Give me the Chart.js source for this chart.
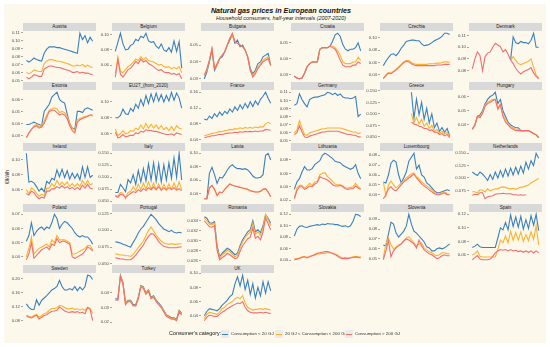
<!DOCTYPE html>
<html>
<head>
<meta charset="utf-8">
<script src="https://cdn.jsdelivr.net/npm/chart.js@4/dist/chart.umd.min.js"></script>
<style>
  body { margin: 0; background: #ffffff; font-family: "Liberation Sans", Arial, sans-serif; }
  #page { position: relative; width: 550px; height: 347px; overflow: hidden; }
  #bg { position: absolute; left: 4px; top: 4px; width: 542px; height: 339px; background: #fcf8ec; }
  .title { position: absolute; left: 0; width: 562px; text-align: center; color: #111; }
  .strip { position: absolute; height: 8px; background: #d9d9d9; color: #1a1a1a;
           font-size: 4.6px; line-height: 8px; text-align: center; white-space: nowrap; }
  canvas { position: absolute; }
  #ylab { position: absolute; left: -8px; top: 174px; width: 30px; text-align: center;
          font-size: 5px; color: #222; transform: rotate(-90deg); }
  .leg { position: absolute; top: 331px; font-size: 4.4px; color: #333; white-space: nowrap; line-height: 6px; }
  .key { position: absolute; top: 330px; width: 8px; height: 8px; background: #ebebeb; }
  .key i { position: absolute; left: 1px; right: 1px; top: 3.5px; height: 1px; }
</style>
</head>
<body>
<div id="page">
  <div id="bg"></div>
  <div class="title" style="top:6px;font-size:7.2px;font-weight:bold;font-style:italic;">Natural gas prices in European countries</div>
  <div class="title" style="top:15px;font-size:5.4px;font-style:italic;color:#222;">Household consumers, half-year intervals (2007-2020)</div>
  <div id="ylab">€/kWh</div>
</div>
<script>
// half-year periods, 2007S1 .. 2020S1
const periods = ['2007S1','2007S2','2008S1','2008S2','2009S1','2009S2','2010S1','2010S2','2011S1',
  '2011S2','2012S1','2012S2','2013S1','2013S2','2014S1','2014S2','2015S1','2015S2','2016S1',
  '2016S2','2017S1','2017S2','2018S1','2018S2','2019S1','2019S2','2020S1'];

const countries = ['Austria','Belgium','Bulgaria','Croatia','Czechia','Denmark',
  'Estonia','EU27_(from_2020)','France','Germany','Greece','Hungary',
  'Ireland','Italy','Latvia','Lithuania','Luxembourg','Netherlands',
  'Poland','Portugal','Romania','Slovakia','Slovenia','Spain',
  'Sweden','Turkey','UK'];

const categories = ['Consumption < 20 GJ', '20 GJ < Consumption < 200 GJ', 'Consumption > 200 GJ'];
const colors = ['#3a80bf', '#fbb32f', '#f46d6f'];

const _ = null;

// Consumption < 20 GJ
const smallUse = [
  [0.075,0.073,0.075,0.078,0.076,0.075,0.074,0.084,0.089,0.092,0.092,0.092,0.091,0.091,0.090,0.089,0.088,0.087,0.086,0.085,0.084,0.109,0.101,0.106,0.097,0.104,0.099],
  [0.078,0.090,0.102,0.088,0.080,0.081,0.086,0.088,0.094,0.092,0.098,0.096,0.102,0.092,0.090,0.091,0.085,0.082,0.088,0.080,0.078,0.083,0.077,0.092,0.078,0.091,0.056],
  [0.030,0.034,0.040,0.047,0.035,0.038,0.042,0.043,0.046,0.050,0.053,0.056,0.051,0.053,0.049,0.050,0.047,0.043,0.036,0.033,0.035,0.039,0.040,0.043,0.044,0.045,0.038],
  [0.029,0.028,0.0275,0.028,0.031,0.035,0.037,0.038,0.038,0.038,0.046,0.047,0.047,0.047,0.048,0.051,0.055,0.056,0.054,0.049,0.046,0.045,0.046,0.046,0.047,0.050,0.045],
  [0.055,0.062,0.068,0.073,0.074,0.071,0.076,0.083,0.088,0.094,0.095,0.096,0.096,0.095,0.095,0.090,0.087,0.088,0.089,0.092,0.095,0.097,0.099,0.102,0.107,0.107,0.105],
  [_,_,_,_,_,_,_,_,_,_,_,_,_,_,_,0.089,0.109,0.104,0.103,0.105,0.104,0.104,0.103,0.106,0.112,0.100,0.100],
  [0.039,0.039,0.040,0.041,0.040,0.039,0.038,0.050,0.053,0.056,0.062,0.064,0.066,0.060,0.058,0.057,0.048,0.040,0.036,0.035,0.050,0.050,0.049,0.052,0.053,0.052,0.051],
  [0.080,0.080,0.083,0.091,0.085,0.084,0.092,0.088,0.097,0.092,0.103,0.095,0.108,0.098,0.110,0.100,0.111,0.101,0.109,0.100,0.108,0.101,0.112,0.102,0.111,0.105,0.092],
  [0.092,0.090,0.100,0.094,0.106,0.098,0.110,0.102,0.112,0.106,0.118,0.110,0.123,0.114,0.128,0.118,0.132,0.121,0.136,0.124,0.138,0.128,0.142,0.150,0.160,0.145,0.132],
  [0.094,0.096,0.108,0.101,0.096,0.092,0.101,0.103,0.104,0.104,0.105,0.106,0.107,0.110,0.109,0.107,0.109,0.106,0.108,0.104,0.103,0.103,0.102,0.103,0.105,0.080,0.083],
  [_,_,_,_,_,_,_,_,_,_,_,0.147,0.090,0.132,0.098,0.125,0.088,0.112,0.080,0.100,0.070,0.080,0.062,0.070,0.060,0.068,0.052],
  [0.037,0.040,0.046,0.047,0.050,0.055,0.058,0.060,0.061,0.063,0.055,0.058,0.050,0.046,0.042,0.040,0.039,0.038,0.038,0.036,0.036,0.036,0.036,0.035,0.034,0.033,0.031],
  [0.108,0.070,0.071,0.069,0.064,0.058,0.062,0.057,0.071,0.068,0.075,0.073,0.086,0.077,0.087,0.076,0.085,0.074,0.082,0.075,0.081,0.073,0.090,0.076,0.090,0.076,0.079],
  [0.068,0.068,0.085,0.078,0.070,0.095,0.088,0.105,0.085,0.114,0.090,0.118,0.092,0.128,0.094,0.130,0.092,0.128,0.090,0.126,0.094,0.130,0.098,0.140,0.100,0.150,0.094],
  [0.032,0.032,0.070,0.079,0.068,0.055,0.064,0.063,0.068,0.075,0.080,0.083,0.079,0.077,0.077,0.076,0.077,0.075,0.071,0.066,0.063,0.063,0.064,0.068,0.097,0.100,0.090],
  [0.036,0.047,0.052,0.062,0.070,0.065,0.065,0.067,0.073,0.076,0.079,0.087,0.090,0.088,0.085,0.082,0.078,0.077,0.076,0.072,0.070,0.068,0.066,0.068,0.073,0.060,0.052],
  [0.053,0.052,0.060,0.072,0.075,0.073,0.060,0.052,0.057,0.063,0.074,0.078,0.082,0.066,0.070,0.060,0.058,0.052,0.050,0.047,0.044,0.042,0.042,0.043,0.044,0.045,0.044],
  [0.112,0.108,0.105,0.112,0.108,0.102,0.095,0.107,0.097,0.112,0.100,0.115,0.102,0.118,0.104,0.120,0.106,0.122,0.108,0.124,0.110,0.132,0.118,0.135,0.125,0.150,0.140],
  [0.051,0.055,0.064,0.055,0.058,0.060,0.061,0.059,0.061,0.060,0.064,0.070,0.067,0.060,0.063,0.065,0.064,0.062,0.060,0.057,0.055,0.054,0.055,0.054,0.054,0.052,0.049],
  [0.083,0.082,0.081,0.079,0.078,0.076,0.075,0.082,0.088,0.096,0.102,0.106,0.112,0.118,0.124,0.120,0.116,0.110,0.106,0.102,0.100,0.098,0.100,0.097,0.096,0.097,0.096],
  [0.0348,0.0345,0.0336,0.0335,0.0338,0.0290,0.0268,0.0275,0.0280,0.0285,0.0282,0.0277,0.0272,0.0275,0.0290,0.0302,0.0310,0.0318,0.0322,0.0340,0.0318,0.0322,0.0316,0.0330,0.0352,0.0345,0.0335],
  [0.082,0.094,0.099,0.100,0.098,0.097,0.099,0.100,0.101,0.102,0.101,0.103,0.102,0.104,0.103,0.103,0.102,0.102,0.100,0.099,0.100,0.098,0.100,0.108,0.120,0.119,0.116],
  [0.064,0.063,0.075,0.087,0.085,0.076,0.072,0.075,0.078,0.083,0.095,0.085,0.078,0.076,0.073,0.070,0.067,0.062,0.061,0.058,0.058,0.060,0.061,0.060,0.061,0.063,0.065],
  [0.071,0.073,0.076,0.072,0.071,0.071,0.071,0.071,0.071,0.071,0.085,0.100,0.097,0.108,0.097,0.119,0.102,0.116,0.101,0.117,0.098,0.112,0.099,0.118,0.104,0.120,0.096],
  [0.128,0.118,0.112,0.112,0.140,0.124,0.138,0.145,0.152,0.160,0.168,0.172,0.178,0.195,0.178,0.168,0.168,0.172,0.168,0.178,0.166,0.176,0.168,0.178,0.210,0.208,0.198],
  [0.036,0.036,0.052,0.047,0.033,0.035,0.035,0.032,0.032,0.037,0.045,0.044,0.040,0.042,0.037,0.038,0.035,0.033,0.031,0.028,0.025,0.024,0.023,0.023,0.022,0.028,0.026],
  [0.040,0.046,0.050,0.049,0.048,0.047,0.050,0.055,0.058,0.062,0.067,0.070,0.085,0.095,0.082,0.097,0.077,0.090,0.070,0.085,0.065,0.080,0.068,0.088,0.072,0.088,0.075]
];

// 20 GJ < Consumption < 200 GJ
const mediumUse = [
  [0.060,0.058,0.060,0.063,0.062,0.061,0.061,0.071,0.074,0.076,0.076,0.075,0.074,0.074,0.073,0.072,0.071,0.070,0.068,0.068,0.069,0.068,0.070,0.067,0.069,0.067,0.066],
  [0.049,0.070,0.052,0.050,0.054,0.058,0.060,0.064,0.068,0.066,0.071,0.067,0.070,0.066,0.065,0.064,0.062,0.060,0.061,0.058,0.057,0.058,0.055,0.057,0.055,0.058,0.050],
  [0.032,0.035,0.041,0.048,0.036,0.038,0.042,0.044,0.046,0.050,0.054,0.056,0.052,0.051,0.050,0.049,0.047,0.043,0.035,0.032,0.034,0.037,0.039,0.041,0.042,0.043,0.038],
  [0.029,0.028,0.0275,0.028,0.031,0.035,0.037,0.038,0.038,0.038,0.046,0.047,0.047,0.047,0.048,0.048,0.047,0.045,0.042,0.038,0.037,0.037,0.037,0.038,0.038,0.041,0.039],
  [0.035,0.040,0.044,0.043,0.046,0.049,0.053,0.057,0.061,0.063,0.063,0.060,0.058,0.057,0.057,0.057,0.057,0.057,0.058,0.058,0.058,0.059,0.059,0.060,0.061,0.061,0.060],
  [_,_,_,_,_,_,_,_,_,_,_,_,_,_,_,0.089,0.092,0.089,0.086,0.085,0.086,0.087,0.088,0.090,0.083,0.076,0.074],
  [0.028,0.032,0.035,0.038,0.039,0.037,0.038,0.042,0.047,0.051,0.052,0.053,0.052,0.049,0.050,0.049,0.046,0.040,0.036,0.034,0.043,0.044,0.045,0.046,0.046,0.047,0.046],
  [0.066,0.058,0.060,0.064,0.060,0.061,0.064,0.063,0.067,0.065,0.071,0.066,0.073,0.067,0.072,0.067,0.071,0.066,0.070,0.065,0.068,0.064,0.069,0.064,0.070,0.067,0.066],
  [0.050,0.052,0.054,0.056,0.057,0.059,0.061,0.060,0.063,0.064,0.066,0.065,0.068,0.067,0.070,0.068,0.071,0.069,0.071,0.069,0.072,0.070,0.073,0.072,0.080,0.084,0.080],
  [0.060,0.063,0.075,0.066,0.058,0.057,0.060,0.061,0.062,0.063,0.064,0.065,0.065,0.066,0.066,0.066,0.066,0.066,0.066,0.065,0.064,0.063,0.062,0.061,0.061,0.059,0.060],
  [_,_,_,_,_,_,_,_,_,_,_,0.100,0.080,0.092,0.078,0.088,0.073,0.080,0.068,0.075,0.062,0.066,0.058,0.062,0.056,0.060,0.050],
  [0.037,0.040,0.046,0.046,0.049,0.054,0.056,0.057,0.058,0.058,0.052,0.055,0.047,0.044,0.041,0.039,0.038,0.037,0.037,0.036,0.036,0.036,0.036,0.035,0.034,0.033,0.031],
  [0.060,0.055,0.062,0.060,0.055,0.051,0.054,0.052,0.062,0.062,0.068,0.064,0.072,0.066,0.070,0.066,0.070,0.064,0.068,0.064,0.068,0.064,0.072,0.066,0.072,0.066,0.068],
  [0.062,0.060,0.068,0.066,0.055,0.068,0.070,0.080,0.072,0.085,0.074,0.088,0.075,0.090,0.075,0.088,0.074,0.086,0.073,0.085,0.074,0.086,0.075,0.088,0.075,0.090,0.074],
  [0.032,0.032,0.048,0.052,0.046,0.037,0.042,0.041,0.046,0.050,0.054,0.052,0.051,0.050,0.049,0.048,0.047,0.046,0.044,0.043,0.042,0.042,0.043,0.046,0.047,0.042,0.035],
  [0.023,0.038,0.042,0.042,0.038,0.041,0.045,0.042,0.047,0.048,0.058,0.060,0.061,0.055,0.052,0.048,0.044,0.043,0.043,0.041,0.038,0.038,0.039,0.040,0.045,0.040,0.037],
  [0.053,0.039,0.050,0.054,0.050,0.047,0.049,0.052,0.054,0.057,0.059,0.061,0.062,0.058,0.056,0.053,0.051,0.049,0.047,0.045,0.042,0.041,0.041,0.042,0.043,0.041,0.040],
  [0.072,0.072,0.070,0.076,0.075,0.072,0.078,0.074,0.076,0.078,0.078,0.081,0.082,0.081,0.079,0.078,0.079,0.077,0.079,0.081,0.082,0.084,0.086,0.090,0.093,0.096,0.099],
  [0.040,0.046,0.054,0.042,0.044,0.046,0.047,0.048,0.049,0.047,0.052,0.050,0.055,0.052,0.052,0.052,0.051,0.050,0.042,0.042,0.043,0.044,0.045,0.046,0.048,0.048,0.045],
  [0.065,0.064,0.063,0.063,0.062,0.062,0.061,0.064,0.069,0.074,0.079,0.084,0.092,0.100,0.105,0.099,0.093,0.088,0.084,0.081,0.080,0.079,0.080,0.079,0.079,0.080,0.080],
  [0.0345,0.0340,0.0333,0.0332,0.0335,0.0286,0.0265,0.0271,0.0276,0.0281,0.0278,0.0273,0.0268,0.0271,0.0286,0.0298,0.0306,0.0313,0.0317,0.0335,0.0313,0.0318,0.0311,0.0326,0.0353,0.0342,0.0330],
  [0.042,0.043,0.044,0.046,0.047,0.045,0.047,0.048,0.049,0.051,0.051,0.052,0.052,0.053,0.053,0.052,0.051,0.049,0.046,0.044,0.045,0.044,0.045,0.046,0.047,0.046,0.046],
  [0.051,0.065,0.071,0.064,0.060,0.062,0.064,0.065,0.068,0.071,0.072,0.069,0.066,0.063,0.065,0.066,0.061,0.059,0.057,0.056,0.054,0.053,0.054,0.056,0.056,0.055,0.055],
  [0.060,0.062,0.066,0.058,0.057,0.057,0.057,0.057,0.057,0.057,0.068,0.082,0.078,0.088,0.078,0.095,0.082,0.093,0.082,0.094,0.080,0.090,0.081,0.094,0.083,0.103,0.075],
  [0.095,0.093,0.090,0.095,0.098,0.090,0.095,0.100,0.103,0.110,0.115,0.115,0.117,0.124,0.122,0.118,0.114,0.114,0.116,0.112,0.114,0.110,0.114,0.110,0.118,0.116,0.100],
  [0.0355,0.0355,0.0515,0.0465,0.0325,0.0345,0.0345,0.0315,0.0315,0.0365,0.0445,0.0435,0.0395,0.0415,0.0365,0.0375,0.0345,0.0325,0.0305,0.0275,0.0245,0.0235,0.0225,0.0225,0.0215,0.0275,0.0255],
  [0.036,0.042,0.045,0.044,0.043,0.042,0.045,0.050,0.052,0.056,0.058,0.060,0.064,0.066,0.064,0.068,0.058,0.052,0.050,0.048,0.049,0.049,0.050,0.049,0.050,0.049,0.048]
];

// Consumption > 200 GJ
const largeUse = [
  [0.054,0.052,0.054,0.057,0.056,0.055,0.055,0.064,0.066,0.068,0.068,0.067,0.066,0.066,0.065,0.064,0.063,0.062,0.060,0.060,0.061,0.059,0.060,0.059,0.059,0.058,0.057],
  [0.044,0.068,0.048,0.044,0.049,0.054,0.056,0.060,0.065,0.062,0.068,0.064,0.066,0.062,0.060,0.058,0.055,0.053,0.054,0.051,0.050,0.050,0.048,0.049,0.047,0.049,0.042],
  [0.032,0.036,0.041,0.048,0.036,0.039,0.042,0.044,0.046,0.050,0.054,0.057,0.052,0.051,0.050,0.049,0.047,0.043,0.035,0.031,0.033,0.036,0.038,0.040,0.041,0.042,0.038],
  [0.029,0.028,0.0275,0.028,0.031,0.035,0.037,0.038,0.038,0.038,0.046,0.047,0.047,0.047,0.048,0.047,0.046,0.043,0.039,0.036,0.035,0.035,0.035,0.036,0.036,0.038,0.037],
  [0.034,0.039,0.043,0.042,0.045,0.048,0.052,0.056,0.060,0.062,0.061,0.058,0.056,0.055,0.055,0.055,0.055,0.055,0.055,0.055,0.055,0.056,0.056,0.056,0.057,0.057,0.057],
  [0.0815,0.090,0.096,0.093,0.080,0.092,0.095,0.096,0.100,0.1035,0.102,0.1005,0.096,0.098,0.094,0.089,0.086,0.082,0.079,0.077,0.079,0.080,0.081,0.0825,0.078,0.075,0.073],
  [0.028,0.032,0.035,0.037,0.038,0.036,0.037,0.040,0.045,0.050,0.051,0.051,0.049,0.047,0.048,0.047,0.044,0.038,0.034,0.032,0.041,0.043,0.044,0.045,0.046,0.047,0.047],
  [0.062,0.055,0.056,0.059,0.056,0.057,0.058,0.058,0.061,0.060,0.063,0.062,0.065,0.064,0.064,0.063,0.063,0.062,0.061,0.060,0.059,0.059,0.060,0.058,0.061,0.060,0.059],
  [0.045,0.047,0.048,0.050,0.050,0.052,0.053,0.053,0.055,0.056,0.057,0.057,0.059,0.058,0.060,0.059,0.061,0.060,0.061,0.060,0.062,0.060,0.062,0.062,0.066,0.065,0.064],
  [0.058,0.060,0.069,0.061,0.055,0.054,0.056,0.057,0.058,0.059,0.060,0.061,0.061,0.062,0.062,0.062,0.062,0.062,0.061,0.060,0.059,0.058,0.058,0.057,0.057,0.055,0.055],
  [_,_,_,_,_,_,_,_,_,_,_,0.082,0.078,0.076,0.073,0.072,0.068,0.068,0.064,0.065,0.060,0.060,0.055,0.057,0.052,0.055,0.048],
  [0.037,0.040,0.046,0.045,0.048,0.053,0.055,0.056,0.057,0.058,0.051,0.054,0.046,0.042,0.040,0.038,0.037,0.036,0.036,0.036,0.036,0.036,0.036,0.035,0.034,0.033,0.031],
  [0.055,0.053,0.058,0.056,0.051,0.048,0.050,0.049,0.058,0.058,0.061,0.061,0.064,0.062,0.065,0.062,0.064,0.061,0.063,0.060,0.063,0.060,0.066,0.062,0.067,0.062,0.061],
  [0.060,0.058,0.064,0.063,0.058,0.062,0.066,0.070,0.068,0.074,0.070,0.076,0.072,0.078,0.074,0.080,0.074,0.080,0.073,0.078,0.073,0.078,0.074,0.078,0.073,0.076,0.072],
  [0.032,0.032,0.048,0.052,0.046,0.037,0.042,0.041,0.046,0.050,0.054,0.052,0.051,0.050,0.049,0.048,0.047,0.046,0.044,0.043,0.042,0.042,0.043,0.046,0.047,0.042,0.035],
  [0.022,0.034,0.040,0.040,0.036,0.038,0.041,0.040,0.044,0.046,0.055,0.053,0.052,0.050,0.047,0.043,0.041,0.041,0.042,0.040,0.037,0.036,0.037,0.037,0.041,0.038,0.036],
  [0.036,0.040,0.046,0.048,0.045,0.044,0.047,0.050,0.053,0.055,0.057,0.059,0.061,0.057,0.054,0.051,0.049,0.047,0.045,0.043,0.041,0.040,0.040,0.041,0.042,0.040,0.040],
  [0.065,0.067,0.066,0.070,0.070,0.058,0.062,0.063,0.064,0.067,0.068,0.068,0.069,0.068,0.068,0.068,0.066,0.066,0.065,0.066,0.065,0.066,_,_,_,_,_],
  [0.038,0.042,0.050,0.039,0.041,0.043,0.045,0.046,0.047,0.045,0.049,0.048,0.053,0.050,0.051,0.051,0.050,0.049,0.040,0.039,0.040,0.041,0.042,0.044,0.047,0.046,0.044],
  [0.059,0.058,0.057,0.057,0.056,0.056,0.056,0.059,0.063,0.068,0.073,0.078,0.085,0.091,0.095,0.094,0.089,0.083,0.079,0.076,0.075,0.074,0.074,0.074,0.074,0.075,0.075],
  [0.0340,0.0334,0.0328,0.0327,0.0330,0.0281,0.0262,0.0266,0.0270,0.0275,0.0272,0.0268,0.0264,0.0266,0.0279,0.0290,0.0297,0.0304,0.0307,0.0326,0.0305,0.0309,0.0302,0.0318,0.0346,0.0334,0.0322],
  [0.041,0.042,0.043,0.045,0.046,0.044,0.046,0.048,0.050,0.052,0.053,0.054,0.055,0.055,0.054,0.052,0.050,0.047,0.044,0.043,0.043,0.043,0.044,0.045,0.046,0.045,0.044],
  [0.049,0.058,0.068,0.052,0.058,0.061,0.063,0.065,0.068,0.070,0.069,0.067,0.065,0.061,0.069,0.063,0.059,0.057,0.055,0.054,0.052,0.050,0.051,0.053,0.054,0.053,0.053],
  [0.053,0.056,0.059,0.054,0.053,0.053,0.053,0.054,0.058,0.063,0.066,0.068,0.067,0.068,0.066,0.068,0.066,0.067,0.065,0.066,0.064,0.066,0.064,0.066,0.063,0.066,0.063],
  [0.094,0.090,0.088,0.092,0.096,0.085,0.090,0.095,0.097,0.103,0.107,0.108,0.110,0.119,0.114,0.108,0.105,0.104,0.106,0.104,0.106,0.102,0.104,0.100,0.118,0.112,0.080],
  [0.035,0.035,0.051,0.046,0.032,0.034,0.034,0.031,0.031,0.036,0.044,0.043,0.039,0.041,0.036,0.037,0.034,0.032,0.030,0.027,0.024,0.023,0.022,0.022,0.021,0.027,0.025],
  [0.033,0.038,0.041,0.040,0.039,0.039,0.042,0.045,0.047,0.050,0.052,0.054,0.056,0.058,0.057,0.060,0.052,0.047,0.045,0.044,0.044,0.044,0.045,0.044,0.045,0.044,0.043]
];

// y tick labels per panel
const yTicks = [
  ['0.05','0.06','0.07','0.08','0.09','0.10','0.11'],
  ['0.06','0.08','0.10'],
  ['0.03','0.04','0.05'],
  ['0.03','0.04','0.05'],
  ['0.04','0.06','0.08','0.10'],
  ['0.08','0.09','0.10','0.11'],
  ['0.03','0.04','0.05','0.06'],
  ['0.06','0.08','0.10'],
  ['0.04','0.08','0.12','0.16'],
  ['0.05','0.06','0.07','0.08','0.09','0.10','0.11'],
  ['0.050','0.075','0.100','0.125','0.150'],
  ['0.04','0.05','0.06'],
  ['0.06','0.08','0.10'],
  ['0.050','0.075','0.100','0.125','0.150'],
  ['0.04','0.06','0.08','0.10'],
  ['0.02','0.04','0.06','0.08'],
  ['0.04','0.05','0.06','0.07','0.08'],
  ['0.075','0.100','0.125','0.150'],
  ['0.04','0.05','0.06','0.07'],
  ['0.050','0.075','0.100','0.125'],
  ['0.026','0.028','0.030','0.032','0.034'],
  ['0.04','0.06','0.08','0.10','0.12'],
  ['0.05','0.06','0.07','0.08','0.09'],
  ['0.06','0.08','0.10','0.12'],
  ['0.08','0.12','0.16','0.20'],
  ['0.02','0.03','0.04'],
  ['0.04','0.06','0.08','0.10']
];

const page = document.getElementById('page');
const panelW = 73, stripH = 8, plotH = 50, axisW = 22, pad = 4;
const rowTop = [23, 82, 143, 204, 265];

function place(el, css) { Object.assign(el.style, css); page.appendChild(el); return el; }

countries.forEach((name, i) => {
  const col = i % 6, row = Math.floor(i / 6);
  const left = Math.round(23 + col * 89.2);
  const top = rowTop[row];

  const strip = place(document.createElement('div'), {
    left: left + 'px', top: top + 'px', width: panelW + 'px'
  });
  strip.className = 'strip';
  strip.textContent = name;

  const canvas = place(document.createElement('canvas'), {
    left: (left - axisW) + 'px', top: (top + stripH - pad) + 'px'
  });
  canvas.width = axisW + panelW;
  canvas.height = plotH + 2 * pad;

  // ggplot-like 5% expansion of the data range
  const all = [...smallUse[i], ...mediumUse[i], ...largeUse[i]].filter(v => v !== null);
  const lo = Math.min(...all), hi = Math.max(...all), span = hi - lo;
  const xSpan = periods.length - 1;

  const series = [largeUse[i], mediumUse[i], smallUse[i]];
  const cols = [colors[2], colors[1], colors[0]];
  const labels = [categories[2], categories[1], categories[0]];

  new Chart(canvas.getContext('2d'), {
    type: 'line',
    data: {
      datasets: series.map((vals, k) => ({
        label: labels[k],
        data: vals.map((v, j) => ({ x: j, y: v })),
        borderColor: cols[k],
        borderWidth: 1.1,
        pointRadius: 0,
        tension: 0,
        spanGaps: false
      }))
    },
    options: {
      responsive: false,
      animation: false,
      devicePixelRatio: 1,
      events: [],
      layout: { padding: { top: pad, bottom: pad, left: 0, right: 0 } },
      plugins: { legend: { display: false }, tooltip: { enabled: false } },
      scales: {
        x: { type: 'linear', display: false, min: -0.05 * xSpan, max: 1.05 * xSpan },
        y: {
          min: lo - 0.05 * span,
          max: hi + 0.05 * span,
          afterBuildTicks: s => { s.ticks = yTicks[i].map(t => ({ value: parseFloat(t) })); },
          afterFit: s => { s.width = axisW; s.paddingTop = 0; s.paddingBottom = 0; },
          ticks: {
            callback: (v, idx) => yTicks[i][idx],
            font: { size: 4.3, family: 'Liberation Sans, Arial, sans-serif' },
            color: '#4d4d4d',
            padding: 1
          },
          grid: { drawOnChartArea: false, tickLength: 2, color: '#555', lineWidth: 0.5 },
          border: { display: false }
        }
      }
    }
  });
});

// legend
const legTitle = place(document.createElement('div'), { left: '169px', top: '330px', fontSize: '5.4px', color: '#111' });
legTitle.className = 'leg';
legTitle.textContent = "Consumer's category:";
const keyX = [221, 275, 345];
categories.forEach((c, k) => {
  const key = place(document.createElement('div'), { left: keyX[k] + 'px' });
  key.className = 'key';
  const ln = document.createElement('i');
  ln.style.background = colors[k];
  key.appendChild(ln);
  const t = place(document.createElement('div'), { left: (keyX[k] + 10) + 'px' });
  t.className = 'leg';
  t.textContent = c;
});
</script>
</body>
</html>
